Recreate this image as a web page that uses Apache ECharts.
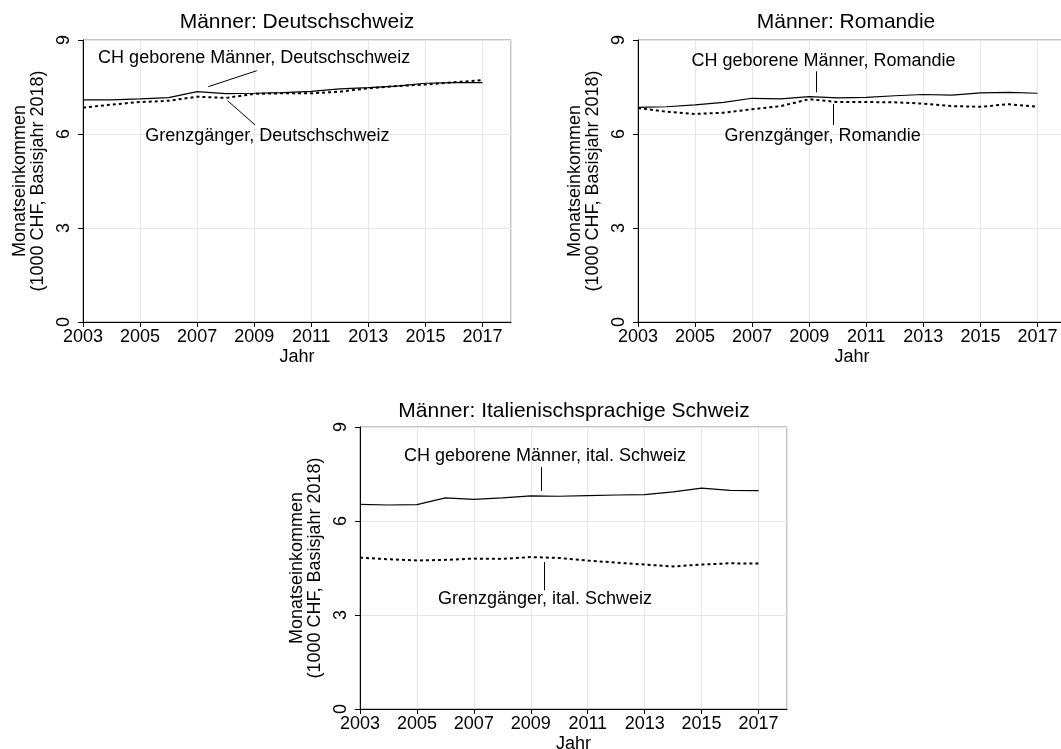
<!DOCTYPE html>
<html lang="de">
<head>
    <meta charset="UTF-8"/>
    <title>Monatseinkommen Männer</title>
    <style>
        html, body {
            margin: 0;
            padding: 0;
            background: #ffffff;
            overflow: hidden;
        }

        #chart {
            width: 1061px;
            height: 749px;
        }
    </style>
</head>
<body>
<div id="chart"></div>
<script src="https://cdn.jsdelivr.net/npm/echarts@6/dist/echarts.min.js"></script>
<script>
    const years = [2003, 2004, 2005, 2006, 2007, 2008, 2009, 2010, 2011, 2012, 2013, 2014, 2015, 2016, 2017];

    // Monatseinkommen in 1000 CHF
    const chDeutschschweiz = [7.09, 7.09, 7.12, 7.16, 7.35, 7.29, 7.30, 7.32, 7.36, 7.44, 7.48, 7.53, 7.62, 7.64, 7.64];
    const ggDeutschschweiz = [6.84, 6.94, 7.02, 7.06, 7.19, 7.15, 7.28, 7.30, 7.30, 7.35, 7.46, 7.53, 7.58, 7.65, 7.72];
    const chRomandie = [6.85, 6.87, 6.93, 7.01, 7.14, 7.12, 7.19, 7.15, 7.17, 7.22, 7.26, 7.24, 7.31, 7.33, 7.30];
    const ggRomandie = [6.83, 6.71, 6.64, 6.68, 6.79, 6.89, 7.11, 7.02, 7.02, 7.01, 6.97, 6.89, 6.87, 6.95, 6.87];
    const chItalienisch = [6.53, 6.51, 6.52, 6.74, 6.69, 6.74, 6.80, 6.79, 6.81, 6.83, 6.84, 6.93, 7.05, 6.98, 6.97];
    const ggItalienisch = [4.83, 4.78, 4.74, 4.76, 4.80, 4.79, 4.85, 4.82, 4.74, 4.67, 4.61, 4.55, 4.61, 4.65, 4.64];

    const titles = ['Männer: Deutschschweiz', 'Männer: Romandie', 'Männer: Italienischsprachige Schweiz'];
    const yName = 'Monatseinkommen\n(1000 CHF, Basisjahr 2018)';
    const xName = 'Jahr';

    // x axis runs in years since 2003 so the tick interval starts at 0
    const x0 = 2003;
    const xEnd = 2018;

    const font = 'Liberation Sans, Arial, Helvetica, sans-serif';

    const panels = [
        {
            ch: chDeutschschweiz, gg: ggDeutschschweiz,
            grid: {left: 83, top: 40, width: 428, height: 282},
            titlePos: {left: 297, top: 12},
            notes: [
                {text: 'CH geborene Männer, Deutschschweiz', at: [2009.0, 8.43], line: [2007.39, 7.51, 2009.09, 8.02]},
                {text: 'Grenzgänger, Deutschschweiz', at: [2009.46, 5.94], line: [2008.07, 7.06, 2009.03, 6.29]}
            ]
        },
        {
            ch: chRomandie, gg: ggRomandie,
            grid: {left: 638, top: 40, width: 428, height: 282},
            titlePos: {left: 846, top: 12},
            notes: [
                {text: 'CH geborene Männer, Romandie', at: [2009.5, 8.34], line: [2009.24, 8.0, 2009.24, 7.33]},
                {text: 'Grenzgänger, Romandie', at: [2009.47, 5.94], line: [2009.85, 6.96, 2009.85, 6.29]}
            ]
        },
        {
            ch: chItalienisch, gg: ggItalienisch,
            grid: {left: 360, top: 427, width: 427, height: 282},
            titlePos: {left: 574, top: 401},
            notes: [
                {text: 'CH geborene Männer, ital. Schweiz', at: [2009.5, 8.06], line: [2009.38, 7.72, 2009.38, 6.96]},
                {text: 'Grenzgänger, ital. Schweiz', at: [2009.5, 3.52], line: [2009.49, 4.69, 2009.49, 3.79]}
            ]
        }
    ];

    const chart = echarts.init(document.getElementById('chart'));

    function toPoints(values) {
        return years.map((y, k) => [y - x0, values[k]]);
    }

    let series = [];
    panels.forEach((p, i) => {
        series.push({
            type: 'line',
            xAxisIndex: i,
            yAxisIndex: i,
            showSymbol: false,
            symbol: 'none',
            lineStyle: {color: '#000', width: 1.2},
            data: toPoints(p.ch)
        });
        series.push({
            type: 'line',
            xAxisIndex: i,
            yAxisIndex: i,
            showSymbol: false,
            symbol: 'none',
            lineStyle: {color: '#000', width: 2, type: [3, 3]},
            data: toPoints(p.gg)
        });
        // annotation texts with their pointer lines
        series.push({
            type: 'scatter',
            xAxisIndex: i,
            yAxisIndex: i,
            symbolSize: 0,
            silent: true,
            itemStyle: {color: '#000', opacity: 1},
            label: {
                show: true,
                position: [0, 0],
                align: 'center',
                verticalAlign: 'middle',
                formatter: params => params.data[2],
                fontFamily: font,
                fontSize: 18,
                color: '#000'
            },
            data: p.notes.map(n => [n.at[0] - x0, n.at[1], n.text]),
            markLine: {
                silent: true,
                symbol: ['none', 'none'],
                label: {show: false},
                lineStyle: {color: '#000', width: 1, type: 'solid', opacity: 1},
                data: p.notes.map(n => [
                    {coord: [n.line[0] - x0, n.line[1]]},
                    {coord: [n.line[2] - x0, n.line[3]]}
                ])
            }
        });
    });

    const option = {
        animation: false,
        backgroundColor: '#ffffff',
        textStyle: {fontFamily: font},
        title: panels.map((p, i) => ({
            text: titles[i],
            left: p.titlePos.left,
            top: p.titlePos.top,
            textAlign: 'center',
            padding: 0,
            textStyle: {fontFamily: font, fontSize: 21, fontWeight: 'normal', color: '#000'}
        })),
        grid: panels.map(p => Object.assign({
            show: true,
            borderColor: '#888',
            borderWidth: 1,
            containLabel: false,
            outerBoundsMode: 'none'
        }, p.grid)),
        xAxis: panels.map((p, i) => ({
            gridIndex: i,
            type: 'value',
            min: 0,
            max: xEnd - x0,
            interval: 2,
            name: xName,
            nameLocation: 'middle',
            nameGap: 26,
            nameTextStyle: {fontFamily: font, fontSize: 18, color: '#000'},
            axisLine: {show: true, onZero: false, lineStyle: {color: '#000', width: 1}},
            axisTick: {show: true, length: 5, lineStyle: {color: '#000'}},
            axisLabel: {
                formatter: v => String(v + x0),
                showMaxLabel: false,
                margin: 6,
                fontFamily: font,
                fontSize: 18,
                color: '#000'
            },
            splitLine: {show: true, lineStyle: {color: '#e6e6e6', width: 1}}
        })),
        yAxis: panels.map((p, i) => ({
            gridIndex: i,
            type: 'value',
            min: 0,
            max: 9,
            interval: 3,
            name: yName,
            nameLocation: 'middle',
            nameRotate: 90,
            nameGap: 36,
            nameTextStyle: {fontFamily: font, fontSize: 18, color: '#000', lineHeight: 18},
            axisLine: {show: true, onZero: false, lineStyle: {color: '#000', width: 1}},
            axisTick: {show: true, length: 5, lineStyle: {color: '#000'}},
            axisLabel: {
                rotate: 90,
                margin: 10,
                fontFamily: font,
                fontSize: 18,
                color: '#000'
            },
            splitLine: {show: true, lineStyle: {color: '#e6e6e6', width: 1}}
        })),
        series: series
    };

    chart.setOption(option);

    window.addEventListener('resize', () => {
        chart.resize();
    });
</script>
</body>
</html>
